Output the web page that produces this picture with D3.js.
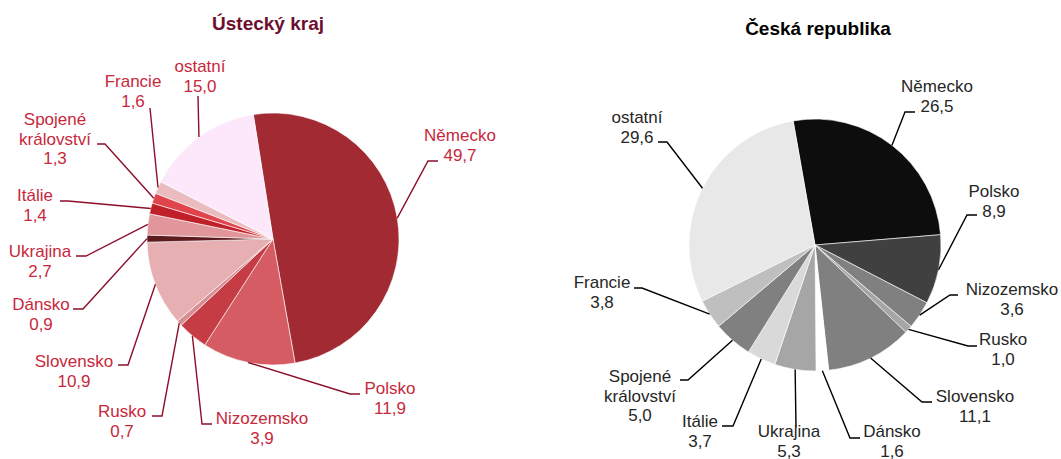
<!DOCTYPE html>
<html>
<head>
<meta charset="utf-8">
<script src="https://cdn.jsdelivr.net/npm/d3@7"></script>
<style>
  body { margin: 0; background: #fff; }
  svg { font-family: "Liberation Sans", Arial, sans-serif; }
</style>
</head>
<body>
<div id="main"></div>
<script>
// shared categories (clockwise from Německo)
const categories = ["Německo", "Polsko", "Nizozemsko", "Rusko", "Slovensko", "Dánsko",
                    "Ukrajina", "Itálie", "Spojené království", "Francie", "ostatní"];

// shares in %
const usteckyValues = [49.7, 11.9, 3.9, 0.7, 10.9, 0.9, 2.7, 1.4, 1.3, 1.6, 15.0];
const crValues      = [26.5, 8.9, 3.6, 1.0, 11.1, 1.6, 5.3, 3.7, 5.0, 3.8, 29.6];

const usteckyColors = ["#a22b33", "#d45c62", "#c63c44", "#d88d92", "#e6afb1", "#5e1a1f",
                       "#e0969a", "#c0202a", "#e0454c", "#ebbcbe", "#fde8fb"];
const crColors      = ["#0d0d0d", "#404040", "#808080", "#a6a6a6", "#808080", "#ffffff",
                       "#a6a6a6", "#d9d9d9", "#808080", "#bfbfbf", "#e8e8e8"];

// label placement: text centre x, first baseline y, elbow, end of leader
const usteckyLabels = [
  {tx: 460, ty: 141, elbow: [428, 161], end: [438, 161]},
  {tx: 390, ty: 394, elbow: [350, 394], end: [360, 394]},
  {tx: 262, ty: 424, elbow: [202, 424], end: [212, 424]},
  {tx: 122, ty: 417, elbow: [162, 416], end: [152, 416]},
  {tx: 74,  ty: 367, elbow: [128, 365], end: [118, 365]},
  {tx: 41,  ty: 310, elbow: [83, 309],  end: [73, 309]},
  {tx: 40,  ty: 257, elbow: [86, 256],  end: [76, 256]},
  {tx: 35,  ty: 201, elbow: [68, 201],  end: [60, 201]},
  {tx: 55,  ty: 125, elbow: [105, 144], end: [97, 144]},
  {tx: 133, ty: 87,  elbow: [150, 108], end: [150, 108]},
  {tx: 200, ty: 72,  elbow: [198, 96],  end: [198, 96]}
];
const crLabels = [
  {tx: 937,  ty: 92,  elbow: [905, 112], end: [915, 112]},
  {tx: 994,  ty: 197, elbow: [967, 215], end: [977, 215]},
  {tx: 1012, ty: 295, elbow: [950, 295], end: [958, 295]},
  {tx: 1003, ty: 345, elbow: [968, 346], end: [977, 346]},
  {tx: 975,  ty: 402, elbow: [922, 402], end: [932, 402]},
  {tx: 892,  ty: 437, elbow: [850, 438], end: [860, 438]},
  {tx: 789,  ty: 437, elbow: [796, 428], end: [796, 428]},
  {tx: 700,  ty: 427, elbow: [733, 426], end: [722, 426]},
  {tx: 640,  ty: 382, elbow: [688, 380], end: [680, 380]},
  {tx: 602,  ty: 288, elbow: [642, 288], end: [634, 288]},
  {tx: 637,  ty: 123, elbow: [667, 142], end: [658, 142]}
];

const ctx = {
  WIDTH: 1061,
  HEIGHT: 459
};

const fmt = v => v.toFixed(1).replace(".", ",");

function drawPie(svg, cfg) {
  const r = cfg.r;
  const start = cfg.startDeg * Math.PI / 180;
  const pie = d3.pie().sort(null).value(d => d.value)
      .startAngle(start).endAngle(start + 2 * Math.PI);
  const arc = d3.arc().innerRadius(0).outerRadius(r);

  const data = categories.map((c, i) => ({name: c, value: cfg.values[i], color: cfg.colors[i], lab: cfg.labels[i]}));
  const arcs = pie(data);

  const g = svg.append("g").attr("transform", `translate(${cfg.cx},${cfg.cy})`);
  g.selectAll("path")
    .data(arcs)
    .enter().append("path")
      .attr("d", arc)
      .attr("fill", d => d.data.color)
      .attr("stroke", "#fff")
      .attr("stroke-width", 0.6);

  // title
  svg.append("text")
    .attr("x", cfg.titleX)
    .attr("y", cfg.titleY)
    .attr("text-anchor", "middle")
    .style("font-weight", "bold")
    .style("font-size", "19px")
    .style("fill", cfg.titleColor)
    .text(cfg.title);

  // leader lines
  const line = d3.line();
  svg.append("g").selectAll("path")
    .data(arcs)
    .enter().append("path")
      .attr("d", d => {
        const a = (d.startAngle + d.endAngle) / 2;
        const p0 = [cfg.cx + r * Math.sin(a), cfg.cy - r * Math.cos(a)];
        return line([p0, d.data.lab.elbow, d.data.lab.end]);
      })
      .attr("fill", "none")
      .attr("stroke", cfg.lineColor)
      .attr("stroke-width", 1.4);

  // labels
  const lbl = svg.append("g").selectAll("text")
    .data(arcs)
    .enter().append("text")
      .attr("text-anchor", "middle")
      .style("font-size", "17px")
      .style("fill", cfg.textColor);
  lbl.each(function(d) {
    const t = d3.select(this);
    const lines = d.data.name === "Spojené království"
        ? ["Spojené", "království", fmt(d.data.value)]
        : [d.data.name, fmt(d.data.value)];
    lines.forEach((s, i) => {
      t.append("tspan")
        .attr("x", d.data.lab.tx)
        .attr("y", d.data.lab.ty + i * 19.5)
        .text(s);
    });
  });
}

function createViz() {
  const svg = d3.select("#main").append("svg")
      .attr("width", ctx.WIDTH)
      .attr("height", ctx.HEIGHT);

  drawPie(svg, {
    cx: 273, cy: 239, r: 126, startDeg: -9,
    values: usteckyValues, colors: usteckyColors, labels: usteckyLabels,
    title: "Ústecký kraj", titleX: 268, titleY: 30, titleColor: "#6d0e2e",
    lineColor: "#8c0f2a", textColor: "#c8283c"
  });
  drawPie(svg, {
    cx: 815, cy: 245, r: 126, startDeg: -10,
    values: crValues, colors: crColors, labels: crLabels,
    title: "Česká republika", titleX: 818, titleY: 35, titleColor: "#000",
    lineColor: "#000", textColor: "#262626"
  });
}

createViz();
</script>
</body>
</html>
